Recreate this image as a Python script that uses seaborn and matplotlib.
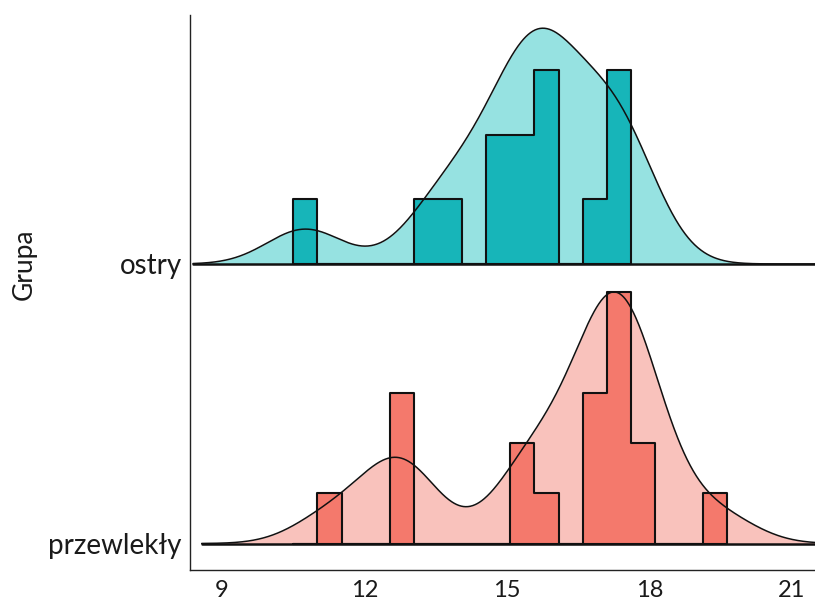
import numpy as np
import matplotlib
matplotlib.use("Agg")
import matplotlib.pyplot as plt
import seaborn as sns

# Observations per group (values in the x units of the axis)
groups = ["ostry", "przewlekły"]
ostry = [10.75, 13.5, 14.0, 14.9, 15.0, 15.45, 15.55, 15.9, 16.0, 16.08,
         16.9, 17.25, 17.45, 17.6]
przewlekly = [11.3, 12.6, 12.75, 12.9, 15.35, 15.5, 15.8, 16.75, 16.95, 17.05,
              17.15, 17.25, 17.35, 17.45, 17.55, 17.9, 18.05, 19.45]
x_ticks = [9, 12, 15, 18, 21]
y_title = "Grupa"

# Styling
fill_colors = ["#96E2E1", "#F9C2BC"]
bar_colors = ["#17B5B9", "#F4796C"]
bandwidth = 0.8
bin_origin, bin_width = 10.5, 0.508

sns.set_style("white")
plt.rcParams["font.family"] = ["Lato", "DejaVu Sans"]

W, H = 815, 607
fig = plt.figure(figsize=(W / 100, H / 100), dpi=100)
left_px, right_px, top_px, bottom_px = 190, 815, 15, 570
px_per_unit = 47.47
x_lo = 8.324
main = fig.add_axes([left_px / W, (H - bottom_px) / H,
                     (right_px - left_px) / W, (bottom_px - top_px) / H])
main.set_xlim(x_lo, x_lo + (right_px - left_px) / px_per_unit)
main.set_ylim(0, 1)

# ridge baselines in axes fraction; ridge peaks reach 90% of the spacing
baselines = [0.5514, 0.0477]
ridge_h = 0.9 * (baselines[0] - baselines[1])
clip_left = [8.387, 8.57]


def overlay(z):
    ax = fig.add_axes(main.get_position(), sharex=main, zorder=z)
    ax.patch.set_visible(False)
    ax.axis("off")
    return ax


datasets = [ostry, przewlekly]
kde_axes, hist_axes = [], []
kde_max, hist_max = 0.0, 0.0
for i, data in enumerate(datasets):
    data = np.asarray(data)
    factor = bandwidth / np.std(data, ddof=1)
    n_bins = int(np.ceil((data.max() - bin_origin) / bin_width))
    edges = bin_origin + bin_width * np.arange(n_bins + 1)
    kde_kw = dict(x=data, bw_method=factor, cut=20,
                  clip=(clip_left[i], 21.6), gridsize=800)

    ax_fill = overlay(2 + 3 * i)
    sns.kdeplot(**kde_kw, fill=True, color=fill_colors[i], alpha=1,
                linewidth=0, ax=ax_fill)

    ax_hist = overlay(3 + 3 * i)
    sns.histplot(x=data, stat="density", bins=edges,
                 element="step", fill=True, color=bar_colors[i], alpha=1,
                 edgecolor="#111111", linewidth=1.5, ax=ax_hist)

    ax_line = overlay(4 + 3 * i)
    sns.kdeplot(**kde_kw, fill=False, color="#111111", linewidth=1.1,
                ax=ax_line)
    xl = main.get_xlim()
    ax_line.axhline(0, xmin=(clip_left[i] - xl[0]) / (xl[1] - xl[0]),
                    color="#111111", linewidth=1.8)

    kde_max = max(kde_max, ax_line.lines[0].get_ydata().max())
    counts, _ = np.histogram(data, bins=edges, density=True)
    hist_max = max(hist_max, counts.max())
    kde_axes.append((ax_fill, ax_line))
    hist_axes.append(ax_hist)


def set_scale(ax, base, peak):
    k = ridge_h / peak
    ax.set_ylim(-base / k, (1 - base) / k)


for i in range(2):
    for ax in kde_axes[i]:
        set_scale(ax, baselines[i], kde_max)
    set_scale(hist_axes[i], baselines[i], hist_max)

# axis frame, ticks and labels
for s in ["top", "right"]:
    main.spines[s].set_visible(False)
for s in ["left", "bottom"]:
    main.spines[s].set_color("#222222")
    main.spines[s].set_linewidth(1.0)
main.set_xticks(x_ticks)
main.set_xticklabels([str(t) for t in x_ticks])
main.set_yticks(baselines)
main.set_yticklabels(groups)
main.tick_params(axis="both", which="both", length=4, width=1,
                 color="#333333", labelcolor="#1a1a1a")
main.tick_params(axis="x", pad=3, labelsize=17)
main.tick_params(axis="y", pad=2, labelsize=20)
main.set_xlabel("")
main.set_ylabel(y_title, fontsize=19, color="#1a1a1a")
main.yaxis.set_label_coords(-0.245, baselines[0])

fig.savefig("out.png", dpi=100, facecolor="white")
